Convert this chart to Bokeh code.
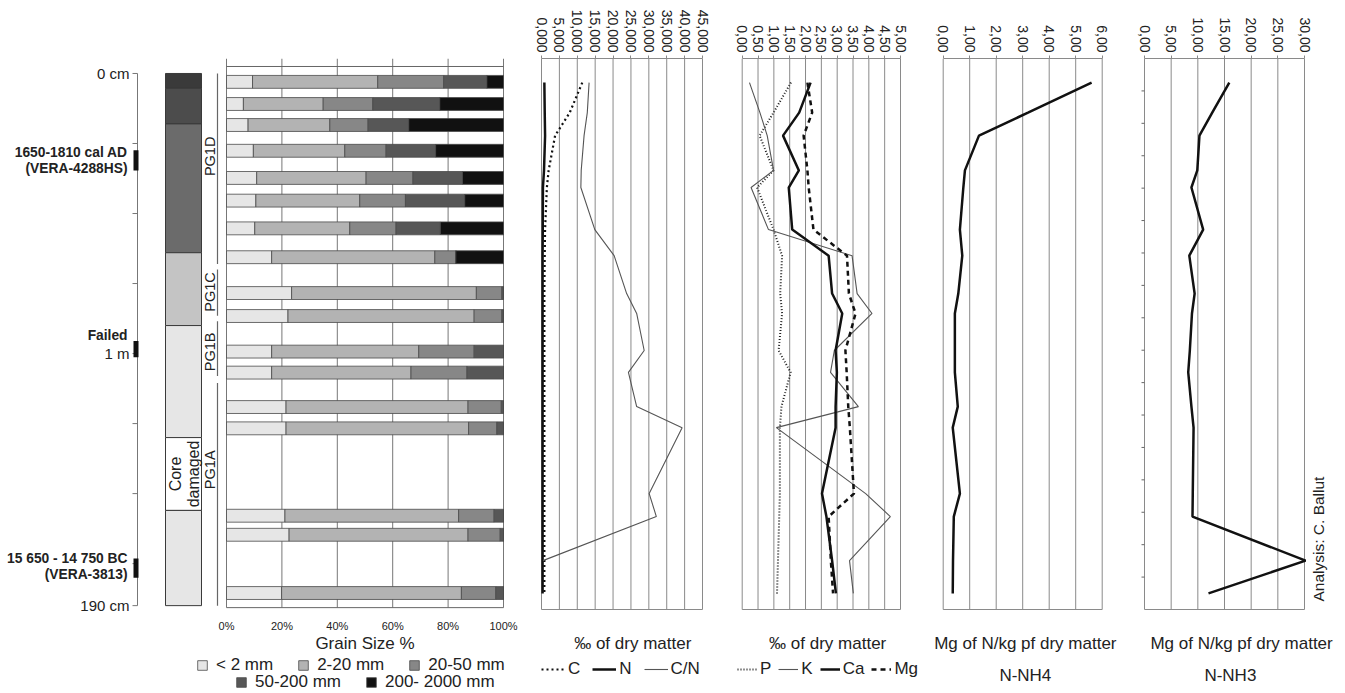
import math
import numpy as np
from bokeh.plotting import figure
from bokeh.layouts import row
from bokeh.models import (Range1d, FixedTicker, Legend, LegendItem, ColumnDataSource)
from bokeh.core.properties import value
from bokeh.embed import file_html
from bokeh.resources import INLINE

FONT = value("Liberation Sans")
FONTN = "Liberation Sans"

# ---------------- data ----------------
depth_ticks = [0, 25, 50, 75, 100, 125, 150, 175, 190]
depth_tick_text = ["0 cm", "", "", "", "1 m", "", "", "", "190 cm"]

litho_top = [0, 5.3, 18, 64, 90, 130, 156]
litho_bottom = [5.3, 18, 64, 90, 130, 156, 190]
litho_color = ["#3a3a3a", "#4c4c4c", "#6b6b6b", "#c4c4c4", "#e6e6e6", "#ffffff", "#e6e6e6"]
litho_label = ["", "", "", "", "", "Core\ndamaged", ""]

unit_names = ["PG1D", "PG1C", "PG1B", "PG1A"]
unit_top = [0, 70, 88.5, 110.5]
unit_bottom = [68, 86.5, 108, 190]
unit_label_depth = [29.6, 78.0, 99.4, 141.5]

dating_labels = ["1650-1810 cal AD\n(VERA-4288HS)", "Failed", "15 650 - 14 750 BC\n(VERA-3813)"]
dating_top = [27.4, 95.5, 173.2]
dating_bottom = [34.6, 101.3, 180.0]
dating_label_depth = [31.0, 93.7, 176.1]

grain_depth = [3.0, 10.9, 18.4, 27.6, 37.3, 45.4, 55.3, 65.6, 78.4, 86.6,
               99.3, 106.8, 119.1, 126.7, 157.9, 164.7, 185.5]
grain_classes = ["< 2 mm", "2-20 mm", "20-50 mm", "50-200 mm", "200- 2000 mm"]
grain_lt2 = [9.4, 6.1, 7.8, 9.7, 10.9, 10.6, 10.2, 16.3, 23.5, 22.2, 16.3, 16.3, 21.5, 21.5, 21.1, 22.6, 19.9]
grain_2_20 = [45.2, 28.8, 29.5, 33.0, 39.5, 37.5, 34.3, 58.9, 66.7, 67.2, 53.1, 50.3, 65.7, 65.9, 62.7, 64.6, 64.9]
grain_20_50 = [23.8, 17.9, 13.8, 14.9, 16.9, 16.5, 16.7, 7.6, 9.2, 10.0, 20.0, 20.2, 12.0, 10.2, 12.8, 11.6, 12.4]
grain_50_200 = [15.6, 24.2, 14.7, 17.9, 17.9, 21.4, 16.0, 0.0, 0.6, 0.6, 10.6, 13.2, 0.8, 2.4, 3.4, 1.2, 2.8]
grain_200_2000 = [6.0, 23.0, 34.2, 24.5, 14.8, 14.0, 22.8, 17.2, 0.0, 0.0, 0.0, 0.0, 0.0, 0.0, 0.0, 0.0, 0.0]
grain_colors = ["#e6e6e6", "#b3b3b3", "#878787", "#575757", "#111111"]
pct_ticks = [0, 20, 40, 60, 80, 100]
pct_labels = ["0%", "20%", "40%", "60%", "80%", "100%"]

chem_depth = [3.6, 14.3, 22.5, 34.9, 41.0, 56.0, 65.3, 78.8, 85.9, 99.1,
              106.9, 119.1, 126.6, 150.1, 158.3, 174.0, 185.7]
C_vals = [11.4, 7.9, 3.8, 2.0, 1.5, 1.0, 0.9, 0.8, 0.8, 0.8, 0.8, 0.8, 0.8, 0.8, 0.8, 0.8, 0.8]
N_vals = [0.8, 0.9, 1.0, 0.7, 0.4, 0.35, 0.3, 0.3, 0.3, 0.3, 0.3, 0.3, 0.3, 0.3, 0.3, 0.3, 0.3]
CN_vals = [13.3, 12.8, 11.9, 11.1, 11.0, 14.9, 20.3, 23.8, 26.6, 28.7, 24.3, 26.6, 39.3, 30.1, 32.1, 0.4, float("nan")]
P_vals = [1.54, 0.99, 0.55, 0.99, 0.47, 0.99, 1.26, 1.20, 1.26, 1.15, 1.53, 1.24, 1.19, 1.19, 1.17, 1.13, 1.10]
K_vals = [0.23, 0.56, 0.79, 0.99, 0.28, 0.83, 3.47, 3.63, 4.10, 2.91, 2.79, 3.67, 1.08, 3.90, 4.68, 3.39, 3.51]
Ca_vals = [2.16, 1.80, 1.29, 1.79, 1.47, 1.58, 2.73, 2.84, 3.16, 2.95, 2.99, 2.95, 2.95, 2.52, 2.66, 2.84, 2.96]
Mg_vals = [2.06, 2.21, 1.94, 2.06, 2.10, 2.25, 3.31, 3.37, 3.58, 3.26, 3.30, 3.35, 3.40, 3.53, 2.73, 2.80, 2.87]
NH4_vals = [5.6, 3.2, 1.35, 0.82, 0.76, 0.63, 0.72, 0.57, 0.44, 0.44, 0.44, 0.55, 0.36, 0.63, 0.40, 0.37, 0.36]
NH3_vals = [15.9, 12.7, 10.3, 9.9, 8.8, 11.0, 8.4, 9.4, 8.9, 8.5, 8.2, 8.8, 9.2, 9.05, 9.0, 30.2, 12.0]

cn_ticks = [0, 5, 10, 15, 20, 25, 30, 35, 40, 45]
cn_labels = ["0,000", "5,000", "10,000", "15,000", "20,000", "25,000", "30,000", "35,000", "40,000", "45,000"]
pk_ticks = [0, 0.5, 1, 1.5, 2, 2.5, 3, 3.5, 4, 4.5, 5]
pk_labels = ["0,00", "0,50", "1,00", "1,50", "2,00", "2,50", "3,00", "3,50", "4,00", "4,50", "5,00"]
nh4_ticks = [0, 1, 2, 3, 4, 5, 6]
nh4_labels = ["0,00", "1,00", "2,00", "3,00", "4,00", "5,00", "6,00"]
nh3_ticks = [0, 5, 10, 15, 20, 25, 30]
nh3_labels = ["0,00", "5,00", "10,00", "15,00", "20,00", "25,00", "30,00"]

# ---------------- layout helpers ----------------
H = 692
PX_PER_CM = 533 / 190.0      # depth scale: 0 cm sits at page row 72


def dpt(page_y):
    """depth value that sits at a given page row (layout helper)"""
    return (page_y - 72) / PX_PER_CM


D_FIG_BOTTOM = dpt(H)
CHEM_TOP, CHEM_BOT = dpt(58), dpt(609)
GRAIN_FRAME_TOP, GRAIN_TOP, GRAIN_BOT = dpt(57), dpt(65), dpt(607)
GRID = "#8a8a8a"


def span_range(lo, hi, px_lo, px_hi, fig_left, fig_right):
    """x range so that lo..hi lands on page columns px_lo..px_hi of a frame fig_left..fig_right"""
    ppu = (px_hi - px_lo) / float(hi - lo)
    return Range1d(lo - (px_lo - fig_left) / ppu, hi + (fig_right - px_hi) / ppu)


def base(width, x_range, y_top, xloc=None):
    p = figure(width=width, height=H, x_range=x_range, y_range=Range1d(D_FIG_BOTTOM, y_top),
               x_axis_location=xloc, y_axis_location=None,
               output_backend="svg", toolbar_location=None,
               min_border_left=0, min_border_right=0,
               min_border_top=int(round(72 + y_top * PX_PER_CM)), min_border_bottom=0)
    p.grid.visible = False
    p.outline_line_color = None
    p.background_fill_color = "white"
    p.border_fill_color = "white"
    return p


def label(p, x, y, text, size="17px", **kw):
    p.text(x=x, y=y, text=text, text_font=FONT, text_font_size=size, text_color="#222",
           text_align=kw.pop("align", "center"), text_baseline=kw.pop("baseline", "middle"), **kw)


# ---------------- Fig AB: depth scale, lithology, units + grain size ----------------
pA = base(530, Range1d(0, 530), GRAIN_FRAME_TOP)
pA.extra_x_ranges = {"pct": span_range(0, 100, 226, 503, 0, 530)}

pA.segment(x0=137, y0=min(depth_ticks), x1=137, y1=max(depth_ticks), line_color="#777", line_width=1)
pA.segment(x0=132, y0=depth_ticks, x1=137, y1=depth_ticks, line_color="#777", line_width=1)
label(pA, 129, depth_ticks, depth_tick_text, "15px", align="right")

pA.quad(left=133, right=138, top=dating_top, bottom=dating_bottom, fill_color="#111", line_color=None)
label(pA, 127, dating_label_depth, dating_labels, "13.8px", align="right",
      text_font_style="bold", text_line_height=1.05)

pA.quad(left=165, right=201, top=litho_top, bottom=litho_bottom, fill_color=litho_color,
        line_color="#3a3a3a", line_width=1)
litho_mid = [(a + b) / 2 for a, b in zip(litho_top, litho_bottom)]
label(pA, 184, litho_mid, litho_label, "16px", angle=math.pi / 2, text_line_height=1.1)

pA.segment(x0=217, y0=unit_top, x1=217, y1=unit_bottom, line_color="#666", line_width=1.2)
label(pA, 209, unit_label_depth, unit_names, "14.5px", angle=math.pi / 2)

# grain-size panel on its own % scale
PCT = dict(x_range_name="pct")
pA.segment(x0=pct_ticks, y0=GRAIN_FRAME_TOP, x1=pct_ticks, y1=GRAIN_BOT, line_color="#777",
           line_width=1, **PCT)
pA.segment(x0=[min(pct_ticks)] * 2, y0=[GRAIN_TOP, GRAIN_BOT], x1=[max(pct_ticks)] * 2,
           y1=[GRAIN_TOP, GRAIN_BOT], line_color="#666", line_width=1, **PCT)
src = ColumnDataSource(dict(depth=grain_depth, c0=grain_lt2, c1=grain_2_20, c2=grain_20_50,
                            c3=grain_50_200, c4=grain_200_2000))
rs = pA.hbar_stack(["c0", "c1", "c2", "c3", "c4"], y="depth", height=4.6, color=grain_colors,
                   source=src, line_color="#4a4a4a", line_width=0.8, **PCT)
for r, c in zip(rs, grain_colors):
    r.glyph.fill_color = c
    r.glyph.line_color = "#4a4a4a"
label(pA, pct_ticks, [dpt(625)] * len(pct_ticks), pct_labels, "11px", **PCT)
label(pA, [50], [dpt(643)], ["Grain Size %"], "17px", **PCT)


def grain_legend(items, x, row_center):
    leg = Legend(items=items, orientation="horizontal", location=(x, H - row_center - 8.5),
                 label_text_font=FONTN, label_text_font_size="17px", label_text_color="#222",
                 glyph_width=12, glyph_height=12, label_height=17, label_width=8,
                 label_standoff=8, spacing=24,
                 padding=0, margin=0, border_line_color=None, background_fill_alpha=0)
    pA.add_layout(leg)


legend_items = [LegendItem(label=n, renderers=[r]) for n, r in zip(grain_classes, rs)]
grain_legend(legend_items[:3], 196, 666)
grain_legend(legend_items[3:], 235, 683)


# ---------------- chemistry panels ----------------
def chem(fig_left, fig_right, px_lo, px_hi, ticks, labels):
    lo, hi = min(ticks), max(ticks)
    p = base(fig_right - fig_left, span_range(lo, hi, px_lo, px_hi, fig_left, fig_right),
             CHEM_TOP, xloc="above")
    ax = p.xaxis[0]
    ax.bounds = (lo, hi)
    ax.ticker = FixedTicker(ticks=ticks)
    ax.major_label_overrides = dict(zip(ticks, labels))
    ax.major_label_orientation = -math.pi / 2
    ax.major_tick_out = 3
    ax.major_tick_in = 0
    ax.minor_tick_line_color = None
    ax.axis_line_color = GRID
    ax.major_tick_line_color = GRID
    ax.major_label_standoff = 3
    ax.major_label_text_font = FONTN
    ax.major_label_text_font_size = "14px"
    ax.major_label_text_color = "#222"
    p.segment(x0=ticks, y0=CHEM_TOP, x1=ticks, y1=CHEM_BOT, line_color=GRID, line_width=1)
    p.segment(x0=[lo], y0=[CHEM_BOT], x1=[hi], y1=[CHEM_BOT], line_color=GRID, line_width=1)
    return p


def chem_legend(p, items, x, glyph_width, spacing):
    leg = Legend(items=items, orientation="horizontal", location=(x, H - 670 - 8.5),
                 label_text_font=FONTN, label_text_font_size="17px", label_text_color="#222",
                 glyph_width=glyph_width, glyph_height=14, label_height=17, label_width=8,
                 label_standoff=3, spacing=spacing,
                 padding=0, margin=0, border_line_color=None, background_fill_alpha=0)
    p.add_layout(leg)


# C / N / C/N
pC = chem(530, 720, 541, 702, cn_ticks, cn_labels)
rC = pC.line(C_vals, chem_depth, line_color="#111", line_width=2.2, line_dash="2 3")
rN = pC.line(N_vals, chem_depth, line_color="#111", line_width=2.5)
rCN = pC.line(CN_vals, chem_depth, line_color="#555", line_width=1.1)
label(pC, [25.5], [dpt(643)], ["‰ of dry matter"])
chem_legend(pC, [LegendItem(label="C", renderers=[rC]), LegendItem(label="N", renderers=[rN]),
                 LegendItem(label="C/N", renderers=[rCN])], 11, 24, 12)

# P / K / Ca / Mg
pD = chem(720, 922, 741.7, 900, pk_ticks, pk_labels)
rP = pD.line(P_vals, chem_depth, line_color="#222", line_width=2, line_dash="1 2")
rK = pD.line(K_vals, chem_depth, line_color="#555", line_width=1.1)
rCa = pD.line(Ca_vals, chem_depth, line_color="#111", line_width=2.5)
rMg = pD.line(Mg_vals, chem_depth, line_color="#111", line_width=2.5, line_dash="5 4")
label(pD, [2.7], [dpt(643)], ["‰ of dry matter"])
chem_legend(pD, [LegendItem(label="P", renderers=[rP]), LegendItem(label="K", renderers=[rK]),
                 LegendItem(label="Ca", renderers=[rCa]), LegendItem(label="Mg", renderers=[rMg])],
            17, 20, 7)

# N-NH4
pE = chem(922, 1122, 942.7, 1101.7, nh4_ticks, nh4_labels)
pE.line(NH4_vals, chem_depth, line_color="#111", line_width=2.5)
label(pE, [3.1], [dpt(643)], ["Mg of N/kg pf dry matter"])
label(pE, [3.1], [dpt(675)], ["N-NH4"])

# N-NH3
pF = chem(1122, 1343, 1144, 1304, nh3_ticks, nh3_labels)
NH3_PX = 160 / 30.0
pF.line(NH3_vals, chem_depth, line_color="#111", line_width=2.5)
left_ticks = list(np.linspace(CHEM_TOP, CHEM_BOT, 18)[1:-1])
pF.segment(x0=-3 / NH3_PX, y0=left_ticks, x1=0, y1=left_ticks, line_color="#666", line_width=1)
label(pF, [18.2], [dpt(643)], ["Mg of N/kg pf dry matter"])
label(pF, [16.1], [dpt(675)], ["N-NH3"])
label(pF, [max(nh3_ticks) + 14 / NH3_PX], [dpt(601)], ["Analysis: C. Ballut"], "15.5px",
      align="left", angle=math.pi / 2)

layout = row(pA, pC, pD, pE, pF)
open("out.html", "w").write(file_html(layout, INLINE))
